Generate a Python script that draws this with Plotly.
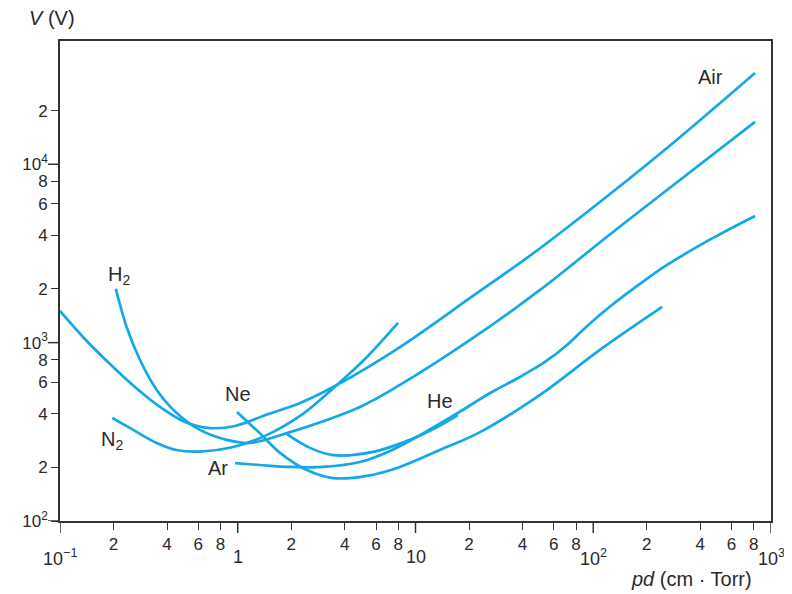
import math
import plotly.graph_objects as go

# Paschen curves: breakdown voltage V (V) vs pd (cm·Torr)
air_pd = [0.1, 0.138, 0.191, 0.264, 0.365, 0.505, 0.698, 0.965, 1.46, 2.24, 3.61, 8.18, 20.3, 47, 109, 260, 813]
air_v = [1505, 1048, 759, 564, 436, 359, 332, 341, 395, 459, 579, 945, 1780, 3221, 6146, 12340, 32500]

h2_pd = [0.206, 0.237, 0.282, 0.350, 0.453, 0.613, 0.867, 1.17, 1.89, 4.87, 8.18, 20.3, 50.2, 119, 260, 813]
h2_v = [2000, 1224, 799, 543, 403, 324, 285, 274, 311, 436, 579, 1035, 1974, 3912, 7177, 17270]

n2_pd = [0.197, 0.2585, 0.350, 0.453, 0.613, 0.944, 1.455, 2.24, 3.61, 5.40, 7.97]
n2_v = [378, 324, 274, 250, 245, 260, 303, 388, 579, 842, 1289]

ne_pd = [0.99, 1.17, 1.33, 1.73, 2.45, 3.43, 5.33, 8.18, 13.7, 23.1, 50.2, 109, 244]
ne_v = [408, 350, 311, 241, 193, 174, 179, 201, 250, 315, 509, 910, 1585]

ar_pd = [0.965, 1.33, 1.97, 3.02, 4.87, 7.19, 10.6, 17.3, 26.3, 38.7, 53.5, 71.2, 89.9, 119.5, 183, 260, 472, 813]
ar_v = [211, 206, 201, 201, 214, 247, 303, 403, 522, 642, 779, 970, 1208, 1544, 2133, 2725, 3863, 5131]

he_pd = [1.89, 2.55, 3.43, 5.77, 9.31, 12.9, 17.3]
he_v = [307, 257, 234, 244, 285, 332, 393]

# Curve labels (position in pd, V)
labels = ["Air", "H<sub>2</sub>", "N<sub>2</sub>", "Ne", "Ar", "He"]
label_pd = [459, 0.215, 0.196, 1.003, 0.774, 13.7]
label_v = [30850, 2366, 284, 515, 198, 471]

x_minor_vals = [0.2, 0.4, 0.6, 0.8, 2, 4, 6, 8, 20, 40, 60, 80, 200, 400, 600, 800]
x_minor_text = ["2", "4", "6", "8"] * 4
x_decades = [0.1, 1, 10, 100, 1000]
x_decade_text = ["10<sup>−1</sup>", "1", "10", "10<sup>2</sup>", "10<sup>3</sup>"]
y_tickvals = [100, 200, 400, 600, 800, 1000, 2000, 4000, 6000, 8000, 10000, 20000]
y_ticktext = ["10<sup>2</sup>", "2", "4", "6", "8", "10<sup>3</sup>", "2", "4", "6", "8", "10<sup>4</sup>", "2"]
y_decades = [100, 1000, 10000]

LINE = "#14a9e6"
TXT = "#2a2a2a"
AX = "#333333"
FONT = "Liberation Sans, Arial, sans-serif"

fig = go.Figure()
for xs, ys in [(air_pd, air_v), (h2_pd, h2_v), (n2_pd, n2_v), (ne_pd, ne_v), (ar_pd, ar_v), (he_pd, he_v)]:
    fig.add_trace(go.Scatter(x=xs, y=ys, mode="lines",
                             line=dict(color=LINE, width=2.7, shape="spline", smoothing=1.0),
                             showlegend=False, hoverinfo="skip"))

for t, px, vy in zip(labels, label_pd, label_v):
    fig.add_annotation(x=math.log10(px), y=math.log10(vy), xref="x", yref="y", text=t,
                       xanchor="center", yanchor="middle",
                       showarrow=False, font=dict(size=20, color=TXT, family=FONT))

# decade labels on the x axis sit one row lower
for d, t in zip(x_decades, x_decade_text):
    fig.add_annotation(x=math.log10(d), y=0, xref="x", yref="paper", yshift=-36,
                       xanchor="center", yanchor="middle", text=t, showarrow=False,
                       font=dict(size=18, color=TXT, family=FONT))

# longer decade ticks
shapes = []
for d in x_decades:
    shapes.append(dict(type="line", xref="x", yref="paper", x0=d, x1=d, ysizemode="pixel",
                       yanchor=0, y0=0, y1=-12, line=dict(color=AX, width=1.5)))
for d in y_decades:
    shapes.append(dict(type="line", yref="y", xref="paper", y0=d, y1=d, xsizemode="pixel",
                       xanchor=0, x0=0, x1=-12, line=dict(color=AX, width=1.5)))

axis_common = dict(type="log", tickmode="array", ticks="outside", ticklen=7, tickwidth=1.3,
                   tickcolor=AX, showline=True, linecolor=AX, linewidth=1.6, mirror=True,
                   showgrid=False, zeroline=False, automargin=False, tickangle=0,
                   tickfont=dict(size=17, color=TXT, family=FONT))

fig.update_layout(
    width=784, height=586,
    margin=dict(l=52, r=21, t=33, b=73),
    paper_bgcolor="white", plot_bgcolor="white",
    template="none",
    shapes=shapes,
    font=dict(family=FONT, color=TXT),
    xaxis=dict(range=[-1, 3], tickvals=x_minor_vals, ticktext=x_minor_text, **axis_common),
    yaxis=dict(range=[2, 4.691], tickvals=y_tickvals, ticktext=y_ticktext, **axis_common),
)

fig.add_annotation(x=-0.0113, y=1.048, xref="paper", yref="paper", text="<i>V</i> (V)",
                   xanchor="center", yanchor="middle",
                   showarrow=False, font=dict(size=20, color=TXT, family=FONT))
fig.add_annotation(x=0.8875, y=-0.1208, xref="paper", yref="paper", text="<i>pd</i> (cm · Torr)",
                   xanchor="center", yanchor="middle",
                   showarrow=False, font=dict(size=20, color=TXT, family=FONT))

fig.write_html("out.html")
